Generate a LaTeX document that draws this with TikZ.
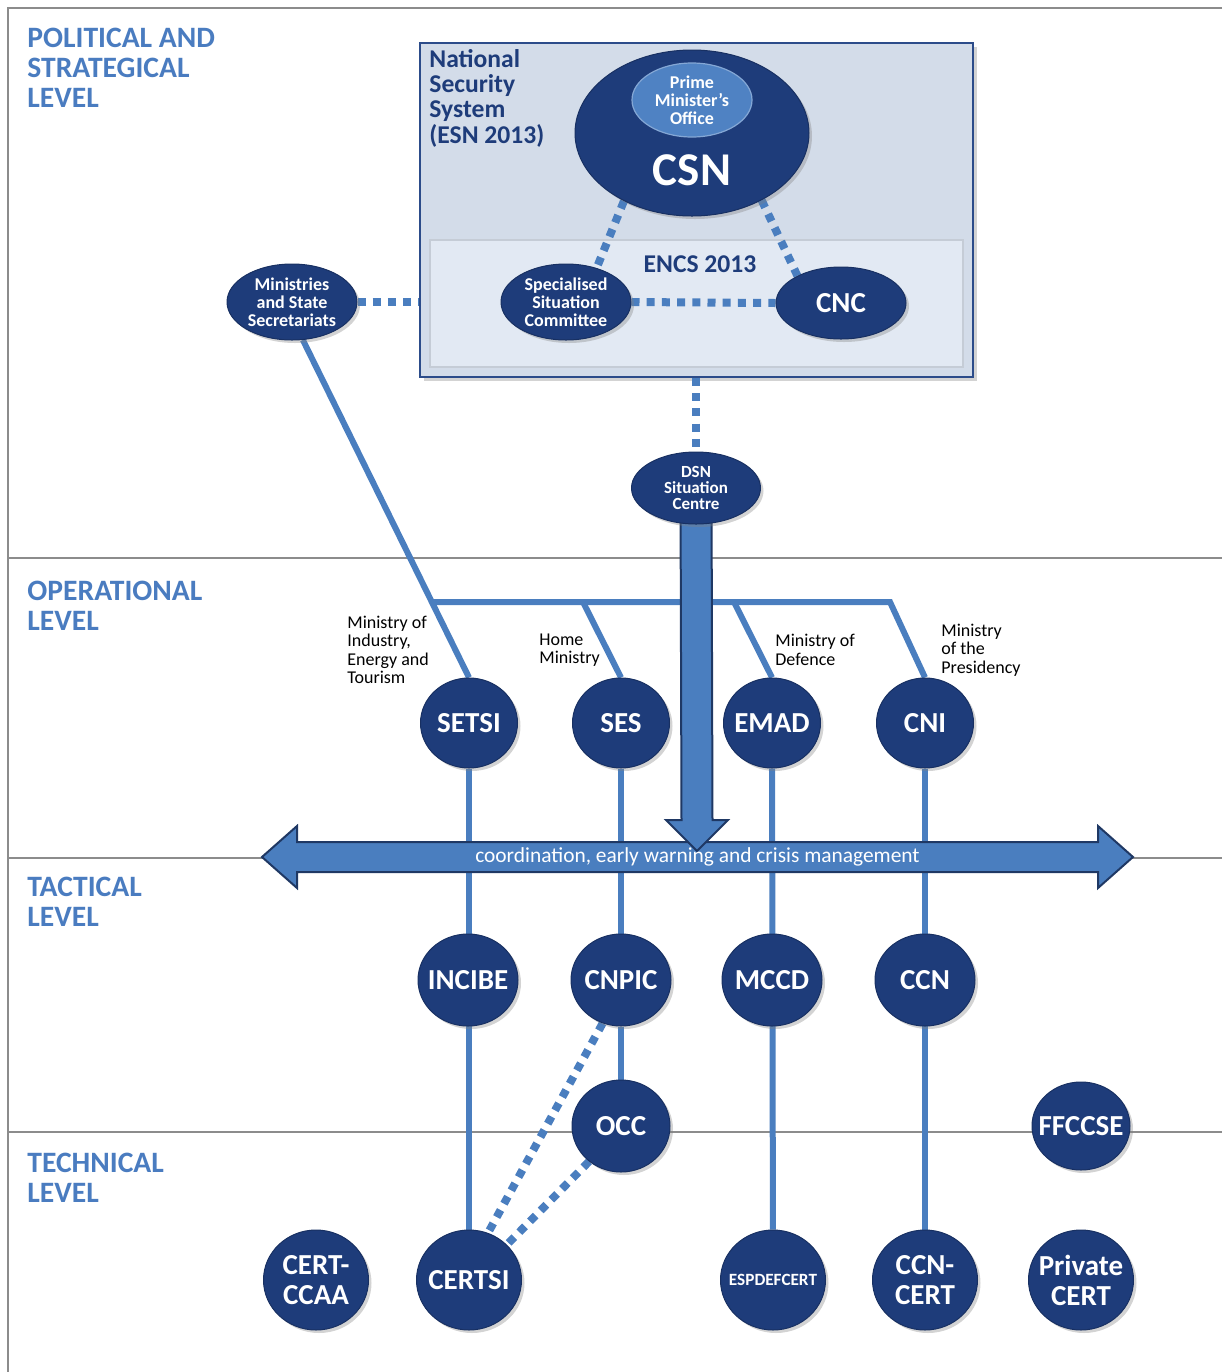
\documentclass[tikz,border=0pt]{standalone}
\usepackage{fontspec}
\setmainfont{Carlito}
\usetikzlibrary{shapes.geometric,shadows,calc}
\definecolor{navy}{HTML}{1E3C7A}
\definecolor{midblue}{HTML}{4A7EBF}
\definecolor{lvlblue}{HTML}{4A7CC0}
\definecolor{boxfill}{HTML}{D3DCE9}
\definecolor{innerfill}{HTML}{E2E9F3}
\definecolor{boxedge}{HTML}{2C4C8A}
\definecolor{inneredge}{HTML}{C5CCD6}
\definecolor{pmofill}{HTML}{4F82C3}
\definecolor{sepgray}{HTML}{8C8C8C}
\definecolor{arrowedge}{HTML}{1F3864}
\pgfdeclarelayer{back}
\pgfdeclarelayer{mid}
\pgfsetlayers{back,mid,main}
\begin{document}
\begin{tikzpicture}[x=0.5pt,y=-0.5pt,
  org/.style={ellipse, fill=navy, draw=navy!80!black, line width=0.5pt, inner sep=0pt,
    drop shadow={shadow xshift=1.5pt,shadow yshift=-1.5pt,opacity=0.35}},
  bigtxt/.style={text=white, font=\bfseries\fontsize{14.5}{15}\selectfont, align=center, inner sep=0pt},
  smtxt/.style={text=white, font=\bfseries\fontsize{9}{9}\selectfont, align=center, inner sep=0pt},
  opnode/.style={org, minimum width=48.5pt, minimum height=45pt},
  tacnode/.style={org, minimum width=50pt, minimum height=46pt},
  technode/.style={org, minimum width=52.5pt, minimum height=50pt},
  levelname/.style={anchor=north west, text=lvlblue, font=\bfseries\fontsize{14.8}{15}\selectfont, align=left, inner sep=0pt},
  mintxt/.style={anchor=west, font=\fontsize{9}{9.2}\selectfont, align=left, inner sep=0pt},
  link/.style={draw=midblue, line width=3pt},
  dotlink/.style={draw=midblue, line width=4pt, dash pattern=on 4pt off 3.6pt},
  bigarrow/.style={fill=midblue, draw=arrowedge, line width=1pt, line join=miter},
  sepline/.style={draw=sepgray, line width=0.6pt},
]
\useasboundingbox (0,0) rectangle (1222,1372);

\begin{pgfonlayer}{back}
% frame and level separators
\draw[sepline] (1222,8) -- (8,8) -- (8,1372);
\draw[sepline] (8,558) -- (1222,558);
\draw[sepline] (8,858) -- (1222,858);
\draw[sepline] (8,1132) -- (1222,1132);
% national security system box
\node[rectangle, fill=boxfill, draw=boxedge, line width=1pt, minimum width=276.5pt, minimum height=167pt,
  drop shadow={shadow xshift=2pt,shadow yshift=-2pt,opacity=0.35}] (nss) at (696.5,210) {};
\node[rectangle, fill=innerfill, draw=inneredge, line width=1pt, minimum width=266.5pt, minimum height=63.5pt] (encs) at (696.5,303.5) {};
\end{pgfonlayer}

% level names
\node[levelname] (lv1) at (27,28) {POLITICAL AND\\STRATEGICAL\\LEVEL};
\node[levelname] (lv2) at (27,581) {OPERATIONAL\\LEVEL};
\node[levelname] (lv3) at (27,877) {TACTICAL\\LEVEL};
\node[levelname] (lv4) at (27,1153) {TECHNICAL\\LEVEL};

\node[anchor=north west, inner sep=0pt, align=left, text=navy, font=\bfseries\fontsize{12.8}{12.6}\selectfont] (nsstxt) at (429,49) {National\\Security\\System\\(ESN 2013)};
\node[inner sep=0pt, text=navy, font=\bfseries\fontsize{12.8}{13}\selectfont] (encstxt) at (700,264) {ENCS 2013};

% nodes of the strategic level
\node[org, minimum width=117pt, minimum height=83pt] (csn) at (692,133) {};
\node[ellipse, fill=pmofill, draw=pmofill!70!white, line width=0.6pt, inner sep=0pt, minimum width=60pt, minimum height=37pt,
  label={[smtxt]center:{Prime\\Minister's\\Office}}] (pmo) at (692,100) {};
\node[inner sep=0pt, text=white, font=\bfseries\fontsize{23.5}{24}\selectfont] (csntxt) at (692,170) {CSN};
\node[org, minimum width=65pt, minimum height=38pt, label={[smtxt]center:{Specialised\\Situation\\Committee}}] (ssc) at (566,302) {};
\node[org, minimum width=65pt, minimum height=36pt, label={[bigtxt]center:CNC}] (cnc) at (841,303) {};
\node[org, minimum width=65pt, minimum height=38pt, label={[smtxt]center:{Ministries\\and State\\Secretariats}}] (mss) at (292,302) {};
\node[org, minimum width=64.5pt, minimum height=36pt,
  label={[text=white, font=\bfseries\fontsize{8.5}{8}\selectfont, align=center, inner sep=0pt]center:{DSN\\Situation\\Centre}}] (dsn) at (696,488) {};

% operational / tactical / technical nodes
\node[opnode, label={[bigtxt]center:SETSI}] (setsi) at (469,723) {};
\node[opnode, label={[bigtxt]center:SES}] (ses) at (621,723) {};
\node[opnode, label={[bigtxt]center:EMAD}] (emad) at (772,723) {};
\node[opnode, label={[bigtxt]center:CNI}] (cni) at (925,723) {};

\node[tacnode, label={[bigtxt]center:INCIBE}] (incibe) at (468,980) {};
\node[tacnode, label={[bigtxt]center:CNPIC}] (cnpic) at (621,980) {};
\node[tacnode, label={[bigtxt]center:MCCD}] (mccd) at (772,980) {};
\node[tacnode, label={[bigtxt]center:CCN}] (ccn) at (925,980) {};

\node[org, minimum width=49pt, minimum height=46pt, label={[bigtxt]center:OCC}] (occ) at (621,1126) {};
\node[org, minimum width=49pt, minimum height=44pt, label={[bigtxt]center:FFCCSE}] (ffccse) at (1081,1126) {};

\node[technode, label={[bigtxt]center:{CERT-\\CCAA}}] (certccaa) at (316,1280) {};
\node[technode, label={[bigtxt]center:CERTSI}] (certsi) at (469,1280) {};
\node[technode, label={[text=white, font=\bfseries\fontsize{8.6}{9}\selectfont, inner sep=0pt]center:ESPDEFCERT}] (espdef) at (773,1280) {};
\node[technode, label={[bigtxt]center:{CCN-\\CERT}}] (ccncert) at (925,1280) {};
\node[technode, label={[bigtxt]center:{Private\\CERT}}] (private) at (1081,1280) {};

% ministry labels
\node[mintxt] (lbind) at (347,650) {Ministry of\\Industry,\\Energy and\\Tourism};
\node[mintxt] (lbhome) at (539,650) {Home\\Ministry};
\node[mintxt] (lbdef) at (775,650) {Ministry of\\Defence};
\node[mintxt] (lbpres) at (941,650) {Ministry\\of the\\Presidency};

% junction points
\coordinate (jL) at (433,602);
\coordinate (jS) at (583,602);
\coordinate (jE) at (734,602);
\coordinate (jR) at (890,602);
% arrow geometry
\coordinate (ha) at (262,857);
\coordinate (hb) at (1133,857);
\coordinate (dtip) at (697,851);

\begin{pgfonlayer}{mid}
% dotted links
\draw[dotlink] (mss.east) -- (nss.west |- mss.east);
\draw[dotlink] (csn.225) -- (ssc.48);
\draw[dotlink] (csn.316) -- (cnc.148);
\draw[dotlink] (ssc.east) -- (cnc.west);
\draw[dotlink] (nss.south -| dsn.north) -- (dsn.north);
\draw[dotlink] (cnpic.247) -- (certsi.68);
\draw[dotlink] (occ.228) -- (certsi.43);
% solid links
\draw[link] (mss.286) -- (setsi.north);
\draw[link] (jL) -- (jR) -- (cni.north);
\draw[link] (jS) -- (ses.north);
\draw[link] (jE) -- (emad.north);
\draw[link] (setsi) -- (certsi);
\draw[link] (ses) -- (cnpic);
\draw[link] (cnpic) -- (occ);
\draw[link] (emad) -- (espdef);
\draw[link] (cni) -- (ccncert);
% horizontal double arrow
\draw[bigarrow] (ha) -- ($(ha)+(35,-31)$) -- ($(ha)+(35,-15)$) -- ($(hb)+(-35,-15)$) -- ($(hb)+(-35,-31)$)
  -- (hb) -- ($(hb)+(-35,31)$) -- ($(hb)+(-35,15)$) -- ($(ha)+(35,15)$) -- ($(ha)+(35,31)$) -- cycle;
% downward arrow from the DSN situation centre
\draw[bigarrow] ($(dsn.center)+(-15.5,0)$) -- ($(dtip)+(-15.5,-31)$) -- ($(dtip)+(-31,-31)$) -- (dtip)
  -- ($(dtip)+(31,-31)$) -- ($(dtip)+(15.5,-31)$) -- ($(dsn.center)+(15.5,0)$) -- cycle;
\end{pgfonlayer}

\node[inner sep=0pt, text=white, font=\fontsize{10.7}{11}\selectfont] (coord) at ($(ha)!0.5!(hb)$) {coordination, early warning and crisis management};
\end{tikzpicture}
\end{document}
